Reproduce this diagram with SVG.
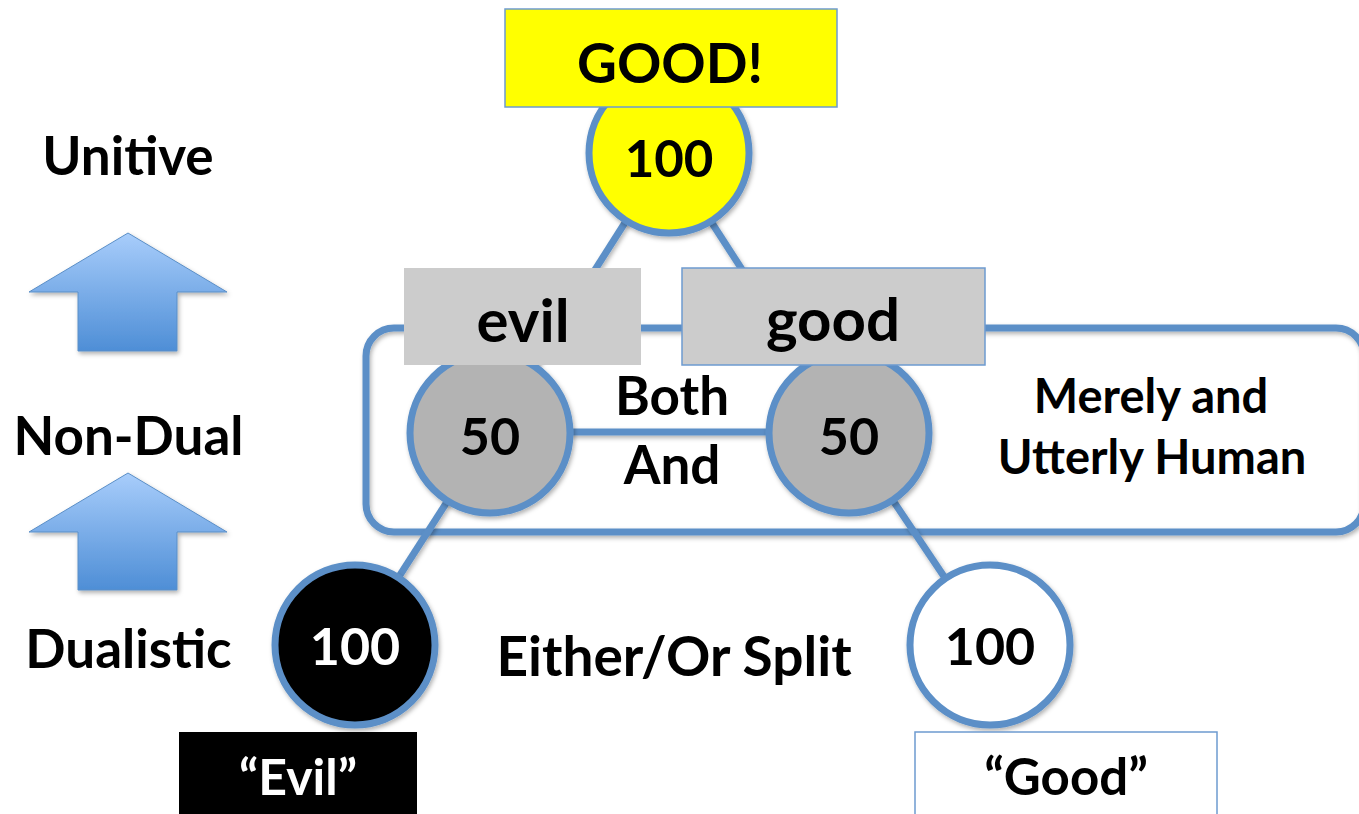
<svg xmlns="http://www.w3.org/2000/svg" width="1359" height="814" viewBox="0 0 1359 814">
<style>
.t{font-family:Lato,"Open Sans","Liberation Sans",sans-serif;font-weight:bold;fill:#000;text-anchor:middle}
.w{fill:#fff}
.ring{stroke:#5b8fc7;stroke-width:7}
.conn{stroke:#5b8fc7;stroke-width:7;fill:none}
.thin{stroke:#6d9bd0;stroke-width:1.5}
</style>
<defs>
<linearGradient id="ag" x1="0" y1="0" x2="0" y2="1">
<stop offset="0" stop-color="#a8cdfb"/>
<stop offset="1" stop-color="#4e8ed6"/>
</linearGradient>
<filter id="sh" x="-20%" y="-20%" width="140%" height="140%">
<feDropShadow dx="1.5" dy="2.5" stdDeviation="2" flood-color="#000" flood-opacity="0.3"/>
</filter>
</defs>

<g id="arrows">
<path d="M128,233 L227,292 L177,292 L177,351 L78,351 L78,292 L29,292 Z" fill="url(#ag)" stroke="#5b8fc7" stroke-width="1" filter="url(#sh)"/>
<path d="M128,473 L227,532 L177,532 L177,590 L78,590 L78,532 L29,532 Z" fill="url(#ag)" stroke="#5b8fc7" stroke-width="1" filter="url(#sh)"/>
</g>

<g id="levels">
<text class="t" x="128" y="175" font-size="53">Unitive</text>
<text class="t" x="128.5" y="455" font-size="53">Non-Dual</text>
<text class="t" x="128.5" y="668" font-size="53">Dualistic</text>
</g>

<g id="human-box">
<rect x="366" y="328" width="998" height="204" rx="28" fill="none" class="ring" filter="url(#sh)"/>
<text class="t" x="1151" y="413" font-size="47">Merely and</text>
<text class="t" x="1152" y="474" font-size="47">Utterly Human</text>
</g>

<g id="connectors" filter="url(#sh)">
<line class="conn" x1="668" y1="155" x2="490" y2="435"/>
<line class="conn" x1="668" y1="155" x2="849" y2="435"/>
<line class="conn" x1="490" y1="432" x2="849" y2="432"/>
<line class="conn" x1="490" y1="435" x2="355" y2="645"/>
<line class="conn" x1="849" y1="435" x2="990" y2="645"/>
</g>

<g id="unitive-node">
<circle cx="669" cy="153" r="80" fill="#ffff00" class="ring" filter="url(#sh)"/>
<rect x="505" y="9" width="332" height="98" fill="#ffff00" class="thin"/>
<text class="t" x="670" y="83" font-size="55">GOOD!</text>
<text class="t" x="669" y="177" font-size="51">100</text>
</g>

<g id="evil-50">
<circle cx="490" cy="433" r="80" fill="#b3b3b3" class="ring" filter="url(#sh)"/>
<rect x="404" y="268" width="237" height="97" fill="#cccccc"/>
<text class="t" x="523" y="342" font-size="60">evil</text>
<text class="t" x="490" y="455" font-size="52">50</text>
</g>

<g id="good-50">
<circle cx="849" cy="433" r="80" fill="#b3b3b3" class="ring" filter="url(#sh)"/>
<rect x="682" y="268" width="303" height="97" fill="#cccccc" class="thin"/>
<text class="t" x="833" y="341" font-size="60">good</text>
<text class="t" x="849" y="455" font-size="52">50</text>
</g>

<g id="both-and">
<text class="t" x="672" y="415" font-size="53">Both</text>
<text class="t" x="672" y="484" font-size="53">And</text>
</g>

<g id="evil-100">
<circle cx="355" cy="645" r="80" fill="#000" class="ring" filter="url(#sh)"/>
<text class="t w" x="355" y="665" font-size="52">100</text>
<rect x="179" y="732" width="238" height="90" fill="#000"/>
<text class="t w" x="298" y="795" font-size="50">“Evil”</text>
</g>

<g id="split">
<text class="t" x="674" y="676" font-size="55">Either/Or Split</text>
</g>

<g id="good-100">
<circle cx="990" cy="645" r="80" fill="#fff" class="ring" filter="url(#sh)"/>
<text class="t" x="990" y="665" font-size="52">100</text>
<rect x="915" y="732" width="302" height="90" fill="#fff" class="thin"/>
<text class="t" x="1066" y="795" font-size="51">“Good”</text>
</g>
</svg>
